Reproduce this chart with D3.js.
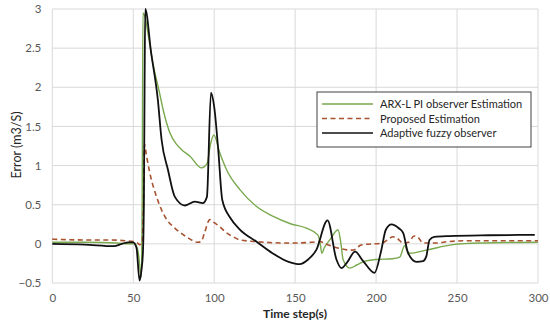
<!DOCTYPE html>
<html>
<head>
<meta charset="utf-8">
<script src="https://cdn.jsdelivr.net/npm/d3@7"></script>
<style>
  body { margin: 0; background: #fff; }
  text { font-family: Lato, "Open Sans", sans-serif; }
</style>
</head>
<body>
<svg id="chart" width="550" height="323"></svg>
<script>
var xTicks = [0, 50, 100, 150, 200, 250, 300];
var yTicks = [-0.5, 0, 0.5, 1, 1.5, 2, 2.5, 3];
var seriesNames = ['ARX-L PI observer Estimation', 'Proposed Estimation', 'Adaptive fuzzy observer'];

var arxT = [0, 20, 40, 48, 51, 53, 55, 55.5, 56, 57.5, 59, 62.2, 66, 68.5, 72.6, 76.8, 80, 85, 92.2, 95.7, 97.5, 99.8,
  103.5, 108, 116, 126, 136.5, 146.7, 157, 164, 165.5, 166.5, 168, 171.4, 176.5, 178.3, 179.6, 183.8, 188, 192,
  200, 210, 214.6, 217.7, 219, 220.8, 231, 247.5, 264, 300];
var arxY = [0.02, 0.02, 0.01, 0.0, 0.0, -0.1, -0.42, 0.5, 2.95, 2.88, 2.7, 2.3, 1.95, 1.71, 1.42, 1.27, 1.2, 1.12, 0.97, 1.03, 1.25, 1.39,
  1.16, 0.93, 0.69, 0.48, 0.35, 0.26, 0.2, 0.115, 0.0, -0.12, -0.05, 0.05, 0.18, 0.0, -0.2, -0.31, -0.27, -0.23,
  -0.2, -0.19, -0.17, -0.02, -0.08, -0.12, -0.08, -0.01, 0.01, 0.02];

var propT = [0, 20, 35, 45, 50, 52, 54, 55.5, 56.3, 57, 58, 60.3, 64.4, 68, 71, 74.7, 82.9, 90, 92, 94, 97.3, 100,
  103.5, 107, 111.7, 116, 125, 146.7, 160, 165, 170, 177.6, 185, 188, 190, 192, 204, 207, 210.5, 213, 216.7,
  220, 223.5, 226, 229, 237, 245, 258, 300];
var propY = [0.06, 0.05, 0.05, 0.04, 0.03, 0.02, -0.01, 0.0, 0.5, 1.27, 1.15, 0.9, 0.6, 0.41, 0.3, 0.22, 0.09, 0.02, 0.03, 0.14, 0.31, 0.27,
  0.22, 0.15, 0.09, 0.05, 0.03, 0.01, 0.02, 0.03, -0.01, -0.06, -0.08, -0.06, -0.02, -0.01, 0.01, 0.05, 0.09, 0.07, 0.01,
  0.02, 0.1, 0.08, 0.01, 0.01, 0.03, 0.04, 0.04];

var fuzzyT = [0, 20, 38, 43, 47, 50, 52, 53.9, 55, 56, 56.6, 57, 57.4, 61, 65.2, 67.5, 71.4, 75.7, 82, 88, 93, 95.5, 98, 100,
  102.5, 105, 110, 116, 126, 136, 146, 152.8, 158, 163, 170, 175.5, 178.6, 182, 187, 192, 199, 203, 206, 209.5,
  214, 216.7, 219.8, 225, 229, 231, 233, 236, 245, 270, 298];
var fuzzyY = [0.0, -0.01, -0.03, 0.0, 0.02, 0.02, -0.05, -0.47, -0.35, -0.1, 0.6, 2.0, 3.0, 2.45, 1.84, 1.33, 0.95, 0.6, 0.49, 0.54, 0.52, 0.6, 1.93, 1.75,
  1.2, 0.56, 0.33, 0.18, 0.03, -0.12, -0.23, -0.26, -0.2, -0.08, 0.3, -0.2, -0.31, -0.24, -0.1, -0.22, -0.37, -0.1, 0.18, 0.25,
  0.2, 0.14, -0.12, -0.23, -0.22, -0.16, 0.05, 0.09, 0.1, 0.11, 0.115];

var colors = ['#78a94c', '#a8522f', '#111111'];

function zip(ts, ys) {
  return ts.map(function (t, i) { return [t, ys[i]]; });
}

function draw() {
  var svg = d3.select('#chart');
  var x0 = 52.3, x1 = 538, y0 = 283, y1 = 9;

  var x = d3.scaleLinear().domain([0, 300]).range([x0, x1]);
  var y = d3.scaleLinear().domain([-0.5, 3]).range([y0, y1]);

  // grid
  svg.append('g').selectAll('line').data(yTicks).enter().append('line')
    .attr('x1', x0).attr('x2', x1)
    .attr('y1', function (d) { return y(d); }).attr('y2', function (d) { return y(d); })
    .attr('stroke', '#d9d9d9').attr('stroke-width', 1);
  svg.append('g').selectAll('line').data(xTicks).enter().append('line')
    .attr('y1', y1).attr('y2', y0)
    .attr('x1', function (d) { return x(d); }).attr('x2', function (d) { return x(d); })
    .attr('stroke', '#d9d9d9').attr('stroke-width', 1);

  // axes
  var xAxis = svg.append('g')
    .attr('transform', 'translate(0,' + y0 + ')')
    .call(d3.axisBottom(x).tickValues(xTicks).tickSize(0).tickPadding(11));
  var yAxis = svg.append('g')
    .attr('transform', 'translate(' + x0 + ',0)')
    .call(d3.axisLeft(y).tickValues(yTicks).tickSize(0).tickPadding(11).tickFormat(d3.format('')));
  [xAxis, yAxis].forEach(function (a) {
    a.select('.domain').remove();
    a.selectAll('text').attr('fill', '#595959').style('font-size', '11.5px')
      .style('font-family', 'Lato, "Open Sans", sans-serif');
  });

  svg.append('text')
    .attr('x', 295).attr('y', 318)
    .attr('text-anchor', 'middle')
    .attr('fill', '#262626')
    .style('font-size', '12px').style('font-weight', 'bold')
    .text('Time step(s)');
  svg.append('text')
    .attr('transform', 'translate(21,145) rotate(-90)')
    .attr('text-anchor', 'middle')
    .attr('fill', '#262626')
    .style('font-size', '12.5px')
    .text('Error (m3/S)');

  // series
  var line = d3.line()
    .x(function (d) { return x(d[0]); })
    .y(function (d) { return y(d[1]); })
    .curve(d3.curveMonotoneX);

  svg.append('path').datum(zip(arxT, arxY))
    .attr('d', line).attr('fill', 'none')
    .attr('stroke', colors[0]).attr('stroke-width', 1.4);
  svg.append('path').datum(zip(propT, propY))
    .attr('d', line).attr('fill', 'none')
    .attr('stroke', colors[1]).attr('stroke-width', 1.6)
    .attr('stroke-dasharray', '5,3.5');
  svg.append('path').datum(zip(fuzzyT, fuzzyY))
    .attr('d', line).attr('fill', 'none')
    .attr('stroke', colors[2]).attr('stroke-width', 1.8);

  // legend
  var lg = svg.append('g');
  lg.append('rect')
    .attr('x', 317).attr('y', 92).attr('width', 214).attr('height', 55)
    .attr('fill', '#fff').attr('stroke', '#404040').attr('stroke-width', 1);
  seriesNames.forEach(function (name, i) {
    var ly = 104 + i * 14.5;
    lg.append('line')
      .attr('x1', 322).attr('x2', 373).attr('y1', ly).attr('y2', ly)
      .attr('stroke', colors[i]).attr('stroke-width', i == 2 ? 1.6 : 1.4)
      .attr('stroke-dasharray', i == 1 ? '5,3.5' : null);
    lg.append('text')
      .attr('x', 380).attr('y', ly + 4)
      .attr('fill', '#262626')
      .style('font-size', '11px')
      .text(name);
  });
}

draw();
</script>
</body>
</html>
